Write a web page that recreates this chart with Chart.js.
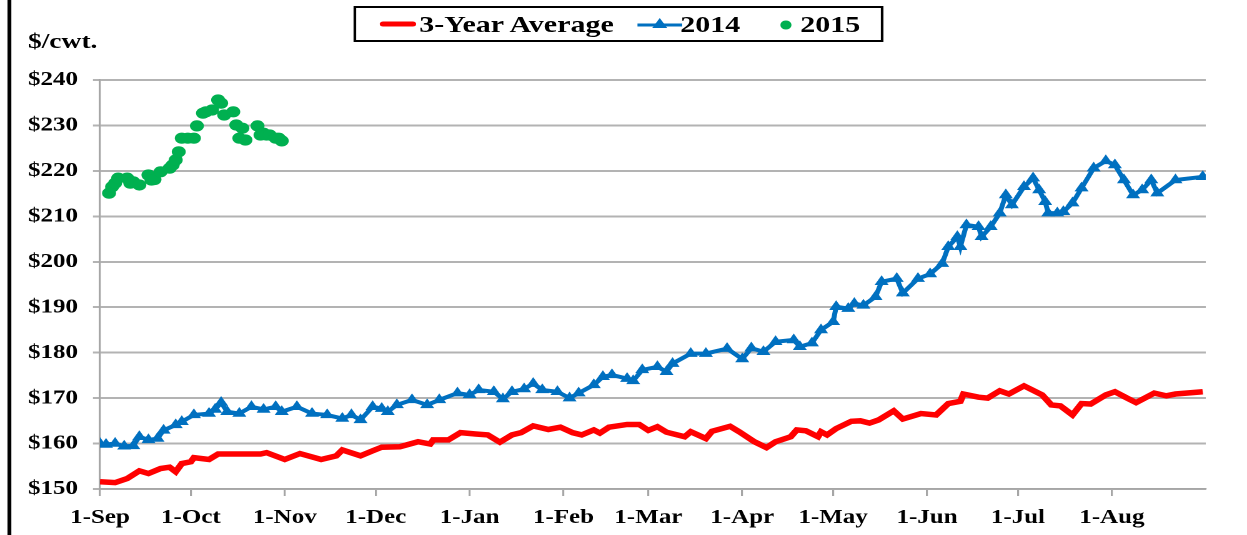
<!DOCTYPE html>
<html>
<head>
<meta charset="utf-8">
<script src="https://cdn.jsdelivr.net/npm/chart.js@4/dist/chart.umd.min.js"></script>
<style>
  html, body { margin: 0; padding: 0; background: #fff; overflow: hidden; }
  /* The reference is rendered horizontally stretched; the whole chart is drawn at 998px and stretched to 1247px */
  #wrap { position: absolute; left: 0; top: 0; width: 998px; height: 535px; transform: scaleX(1.2495); transform-origin: 0 0; }
  #frame { position: absolute; left: 6.4px; top: 0; width: 2.4px; height: 535px; background: #000; }
  #ytitle { position: absolute; left: 22.4px; top: 28px; font: bold 22px "Liberation Serif", serif; color: #000; white-space: nowrap; }
  #legend { position: absolute; left: 282.5px; top: 6px; width: 420px; height: 32px; border: 2px solid #000;
            font: bold 24px "Liberation Serif", serif; color: #000; white-space: nowrap; }
  #legend > * { position: absolute; }
  #legend span { top: 2px; line-height: 28px; }
  canvas { position: absolute; left: 0; top: 0; }
</style>
</head>
<body>
<div id="wrap">
  <canvas id="c" width="998" height="535"></canvas>
  <div id="frame"></div>
  <div id="ytitle">$/cwt.</div>
  <div id="legend"></div>
</div>
<script>
// ---- Data (x = days since 1-Sep) ----
const monthDays   = [0, 30, 61, 91, 122, 153, 181, 212, 242, 273, 303, 334];
const monthLabels = ['1-Sep','1-Oct','1-Nov','1-Dec','1-Jan','1-Feb','1-Mar','1-Apr','1-May','1-Jun','1-Jul','1-Aug'];
const yTicks = [150, 160, 170, 180, 190, 200, 210, 220, 230, 240];

const avgDays = [0,5,9,13,16,20,23,25,27,30,31,36,39,46,53,55,61,66,73,78,80,86,90,93,99,105,109,110,115,119,124,128,132,136,139,143,148,152,156,159,163,165,168,174,178,181,184,187,193,195,200,202,208,211,216,220,223,228,230,233,237,238,240,243,248,251,254,257,262,265,271,276,280,284,285,290,293,297,300,305,311,314,317,321,324,327,332,335,339,342,348,352,355,364];
const avgValues = [151.6,151.4,152.3,154.0,153.4,154.5,154.8,153.8,155.6,156.0,156.9,156.5,157.7,157.7,157.7,158.0,156.5,157.8,156.5,157.3,158.6,157.3,158.4,159.2,159.3,160.4,159.9,160.8,160.8,162.4,162.1,161.9,160.3,161.9,162.4,163.9,163.1,163.6,162.4,161.9,163.0,162.3,163.6,164.2,164.2,162.9,163.7,162.5,161.5,162.6,161.1,162.7,163.8,162.6,160.4,159.1,160.4,161.5,163.0,162.8,161.5,162.6,161.9,163.3,164.9,165.0,164.5,165.2,167.2,165.4,166.6,166.3,168.8,169.3,170.9,170.2,170.0,171.6,170.9,172.7,170.7,168.5,168.3,166.3,168.8,168.7,170.7,171.4,170.0,169.0,171.1,170.5,170.9,171.4];

const y2014Days = [0,2,5,8,11,13,16,19,21,25,27,31,36,38,40,42,46,50,54,58,60,65,70,75,80,83,86,90,93,95,98,103,108,112,118,122,125,130,133,136,140,143,146,151,155,158,163,166,169,174,176,179,184,187,189,195,200,207,212,215,219,223,229,231,235,238,242,243,247,249,252,256,258,263,265,270,274,278,280,283,284,286,290,291,294,297,299,301,305,308,310,312,313,316,318,321,324,328,332,335,338,341,344,347,349,355,364];
const y2014Values = [160.0,159.8,160.0,159.4,159.5,161.5,160.8,161.1,162.9,164.1,164.8,166.3,166.6,167.5,169.0,167.0,166.6,168.1,167.5,168.1,167.0,168.1,166.6,166.3,165.5,166.3,165.2,168.1,167.7,167.0,168.5,169.6,168.5,169.6,171.1,170.7,171.8,171.4,169.8,171.4,172.0,173.2,171.8,171.4,170.0,171.1,172.9,174.7,175.1,174.3,173.8,176.2,176.9,175.8,177.6,179.8,179.8,180.9,178.6,181.0,180.2,182.4,182.8,181.3,182.1,185.0,186.8,190.1,189.7,190.8,190.4,192.3,195.6,196.3,193.1,196.3,197.3,199.6,203.3,205.5,203.3,208.1,207.7,205.5,207.7,210.7,214.7,212.5,216.5,218.4,215.8,213.2,210.7,210.7,211.0,212.9,216.2,220.6,222.2,221.3,218.0,214.7,215.8,218.0,215.1,218.0,218.7];

const y2015Days = [3,4,5,6,9,10,11,13,16,17,18,20,23,24,25,26,27,29,31,32,34,35,37,39,40,41,44,45,46,47,48,52,53,54,55,56,58,59,60];
const y2015Values = [215.1,216.5,217.3,218.4,218.4,217.3,217.6,216.9,219.1,218.0,218.1,219.8,220.6,221.3,222.4,224.2,227.2,227.2,227.2,229.9,232.7,233.0,233.4,235.6,234.9,232.3,233.0,230.1,227.2,229.4,226.8,229.9,227.9,228.3,227.9,227.9,227.2,227.2,226.6];

const seriesNames = ['3-Year Average', '2014', '2015'];
const RED = '#FF0000', BLUE = '#0070C0', GREEN = '#00B050';

const pts = (xs, ys) => xs.map((x, i) => ({ x: x, y: ys[i] }));

// ---- HTML legend ----
const lg = document.getElementById('legend');
lg.innerHTML =
  '<svg width="34" height="10" style="left:18px;top:11px"><line x1="3.5" y1="5" x2="27.5" y2="5" stroke="' + RED + '" stroke-width="5" stroke-linecap="round"/></svg>' +
  '<span style="left:51px">' + seriesNames[0] + '</span>' +
  '<svg width="36" height="16" style="left:225px;top:8px"><line x1="0" y1="9" x2="36" y2="9" stroke="' + BLUE + '" stroke-width="3"/><polygon points="18,2 24,12 12,12" fill="' + BLUE + '"/></svg>' +
  '<span style="left:260px">' + seriesNames[1] + '</span>' +
  '<svg width="12" height="12" style="left:338px;top:11px"><circle cx="6" cy="6" r="4.5" fill="' + GREEN + '"/></svg>' +
  '<span style="left:356px">' + seriesNames[2] + '</span>';

const fontTick = { family: '"Liberation Serif", serif', size: 20, weight: 'bold' };

new Chart(document.getElementById('c'), {
  type: 'line',
  data: {
    datasets: [
      { label: seriesNames[0], data: pts(avgDays, avgValues), borderColor: RED, backgroundColor: RED,
        borderWidth: 5.5, pointRadius: 0, tension: 0, order: 2 },
      { label: seriesNames[1], data: pts(y2014Days, y2014Values), borderColor: BLUE, backgroundColor: BLUE,
        borderWidth: 4, pointStyle: 'triangle', pointRadius: 6.5, pointBorderWidth: 0, tension: 0, order: 1 },
      { label: seriesNames[2], data: pts(y2015Days, y2015Values), borderColor: GREEN, backgroundColor: GREEN,
        showLine: false, pointStyle: 'circle', pointRadius: 5.6, pointBorderWidth: 0, order: 0 }
    ]
  },
  options: {
    responsive: false,
    animation: false,
    devicePixelRatio: 2,
    layout: { padding: { left: 0, right: 33, top: 80, bottom: 0 } },
    plugins: { legend: { display: false }, tooltip: { enabled: false } },
    scales: {
      x: {
        type: 'linear', min: 0, max: 365,
        afterBuildTicks: (s) => { s.ticks = monthDays.map(v => ({ value: v })); },
        afterFit: (s) => { s.height = 46; },
        ticks: { autoSkip: false, maxRotation: 0, padding: 10, color: '#000', font: fontTick,
                 callback: (v) => monthLabels[monthDays.indexOf(v)] },
        grid: { drawOnChartArea: false, drawTicks: true, tickLength: 7, color: '#a6a6a6', lineWidth: 1.6 },
        border: { color: '#a6a6a6', width: 1.6 }
      },
      y: {
        min: 150, max: 240,
        afterBuildTicks: (s) => { s.ticks = yTicks.map(v => ({ value: v })); },
        afterFit: (s) => { s.width = 80; },
        ticks: { padding: 12, color: '#000', font: fontTick, callback: (v) => '$' + v },
        grid: { color: '#b3b3b3', lineWidth: 2, tickLength: 5.6 },
        border: { color: '#a6a6a6', width: 1.6 }
      }
    }
  }
});
</script>
</body>
</html>
